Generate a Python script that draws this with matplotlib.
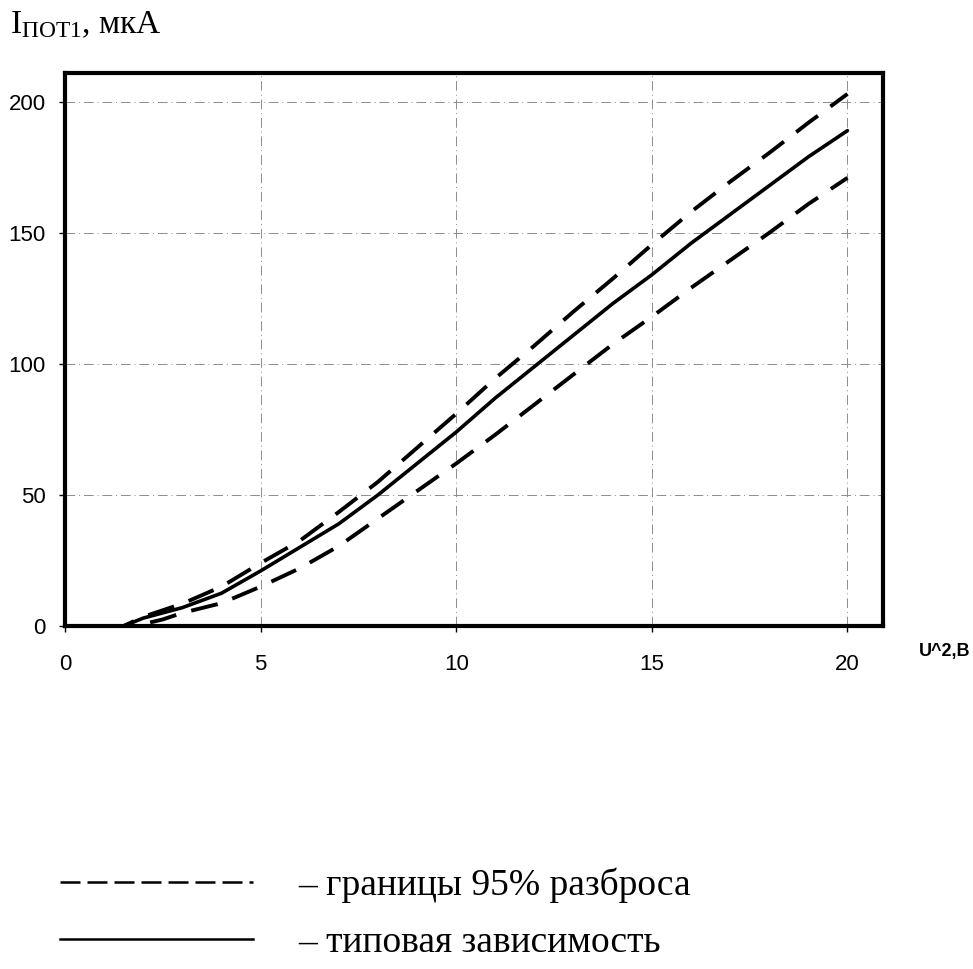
import matplotlib
matplotlib.use("Agg")
from matplotlib import pyplot as plt
from matplotlib.lines import Line2D

# U^2, V values and currents (uA)
u_typ = [0, 1.5, 2, 3, 4, 5, 6, 7, 8, 9, 10, 11, 12, 13, 14, 15, 16, 17, 18, 19, 20]
i_typ = [0, 0, 3, 7, 12.5, 21, 30, 39, 50, 62, 74, 87, 99, 111, 123, 134, 146, 157, 168, 179, 189]

u_up = [0, 1.5, 2, 3, 4, 5, 6, 7, 8, 9, 10, 11, 12, 13, 14, 15, 16, 17, 18, 19, 20]
i_up = [0, 0, 3.5, 8.5, 15, 24, 32.5, 43.5, 55, 68, 81, 94.5, 107, 120, 132.5, 145.5, 158, 169.5, 180.5, 192, 203]

u_low = [0, 1.8, 2.5, 3, 4, 5, 6, 7, 8, 9, 10, 11, 12, 13, 14, 15, 16, 17, 18, 19, 20]
i_low = [0, 0, 2.5, 5, 8.7, 15, 22, 30.5, 41, 51.5, 62, 73, 84.5, 96, 107.5, 118, 129, 139.5, 150, 161, 171]

x_ticks = [0, 5, 10, 15, 20]
y_ticks = [0, 50, 100, 150, 200]

plt.rcParams['mathtext.fontset'] = 'custom'
plt.rcParams['mathtext.rm'] = 'Liberation Serif'

fig = plt.figure(figsize=(9.73, 9.69), dpi=100)
ax = fig.add_axes([0.0668, 0.354, 0.8404, 0.5707])

# typical curve and 95% bounds
ax.plot(u_typ, i_typ, color='black', lw=2.6, solid_capstyle='round')
ax.plot(u_up, i_up, color='black', lw=2.8, dashes=(7, 4))
ax.plot(u_low, i_low, color='black', lw=2.8, dashes=(7, 4))

ax.set_xlim(0, 20.9)
ax.set_ylim(0, 211)
ax.set_xticks(x_ticks)
ax.set_yticks(y_ticks)
ax.grid(True, color='0.55', lw=0.7, linestyle=(0, (10, 4, 1, 4)))
ax.set_axisbelow(True)
for s in ax.spines.values():
    s.set_linewidth(3)
ax.tick_params(direction='out', length=4, width=1, labelsize=16)
ax.tick_params(axis='x', pad=16)
ax.tick_params(axis='y', pad=10)
for lab in ax.get_xticklabels() + ax.get_yticklabels():
    lab.set_fontfamily('Liberation Sans')

fig.text(0.010, 0.974, r'$\mathrm{I_{ПОТ1}}$, мкА', fontsize=24, family='Liberation Serif',
         va='center', ha='left')
fig.text(0.997, 0.328, 'U^2,B', fontsize=13, family='Liberation Sans', fontweight='bold',
         va='center', ha='right')

# legend at the bottom
h1 = Line2D([], [], color='black', lw=1.8, dashes=(8, 2.8))
h2 = Line2D([], [], color='black', lw=1.8)
fig.legend([h1, h2], ['– границы 95% разброса', '– типовая зависимость'],
           loc='upper left', bbox_to_anchor=(0.062, 0.105), frameon=False,
           prop={'family': 'Liberation Serif', 'size': 27},
           handlelength=5.15, handletextpad=1.2, labelspacing=0.6,
           borderpad=0, borderaxespad=0)

fig.savefig('out.png', dpi=100)
